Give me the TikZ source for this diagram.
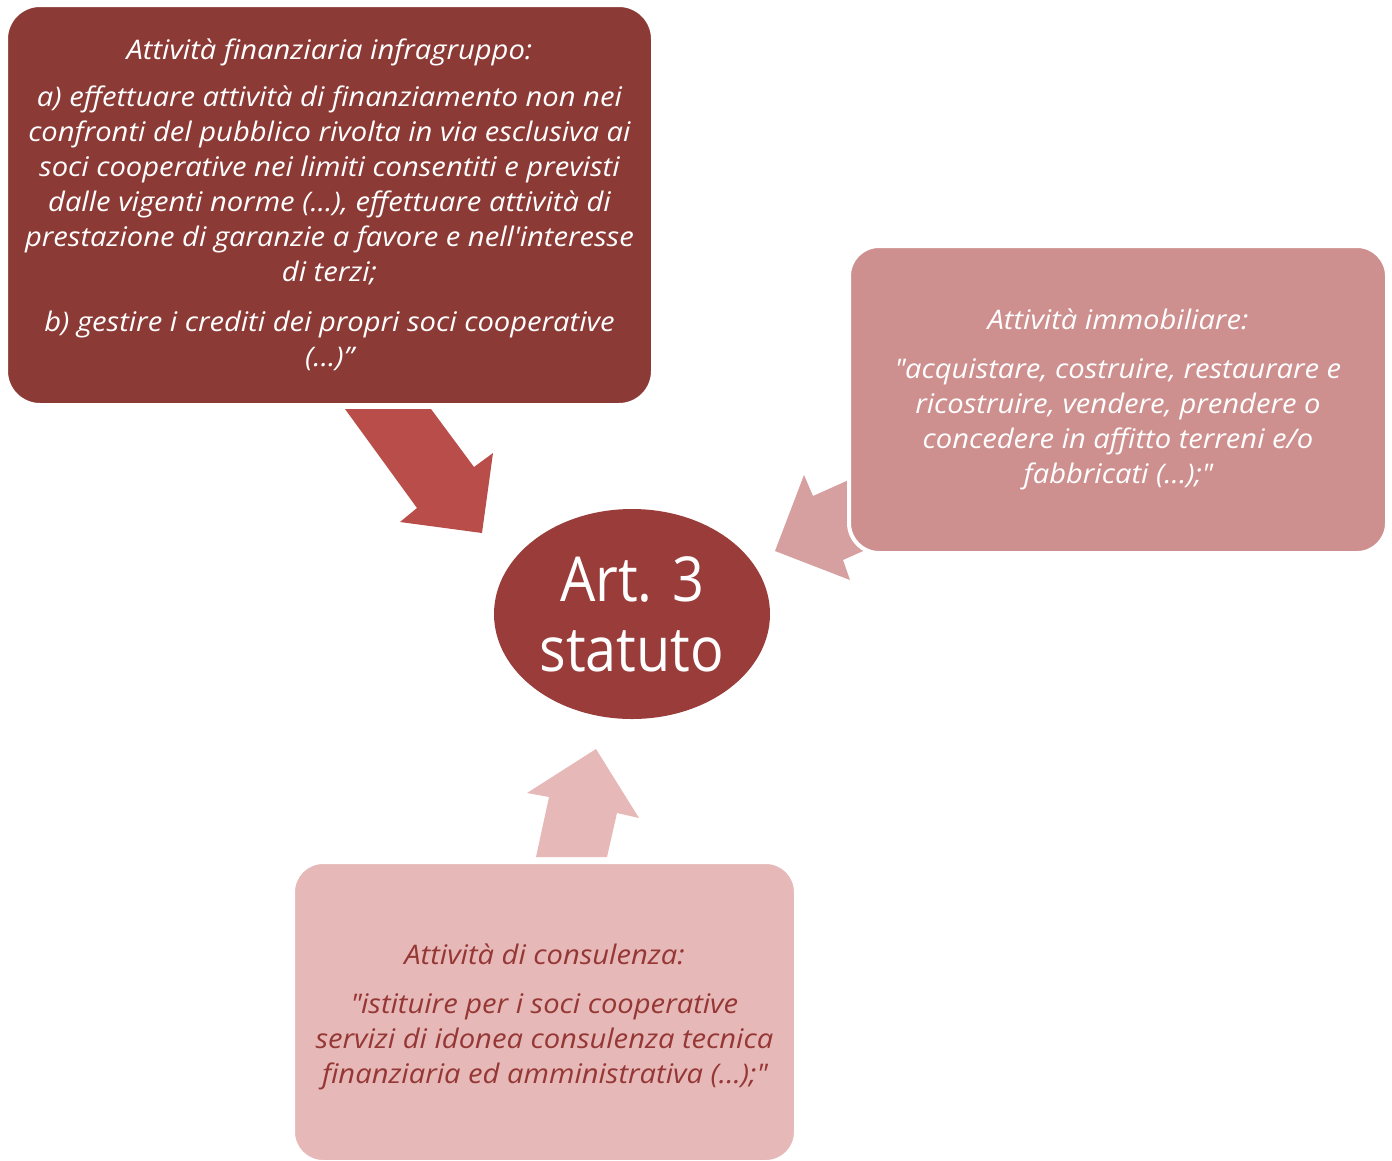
\documentclass[tikz,border=0pt]{standalone}
\usepackage{fontspec}
\setmainfont{Open Sans}[FakeStretch=1.08]
\newfontfamily\artfont{Open Sans}[FakeStretch=0.9]
\usetikzlibrary{shapes.geometric}
\definecolor{topbox}{HTML}{8C3A36}
\definecolor{toparrow}{HTML}{B94D4A}
\definecolor{artfill}{HTML}{993C3A}
\definecolor{rightbox}{HTML}{CD908F}
\definecolor{rightarrow}{HTML}{D5A09F}
\definecolor{botbox}{HTML}{E6B8B7}
\definecolor{bottext}{HTML}{953735}
\begin{document}
\begin{tikzpicture}[x=1pt,y=-1pt,
  box/.style={draw=white, line width=4pt, rounded corners=34pt, inner sep=0pt, align=center,
    font=\fontsize{27}{35}\selectfont\itshape},
  boxtext/.style={inner sep=0pt, align=center, font=\fontsize{27}{35}\selectfont\itshape}]
\useasboundingbox (0,0) rectangle (1392,1160);
% block arrows
\fill[toparrow] (345,409) -- (431,409) -- (474,467) -- (493,453) -- (482,533) -- (400,522) -- (417,508) -- cycle;
\fill[rightarrow] (775,551) -- (804,475) -- (813,496) -- (880,466) -- (910,530) -- (843,560) -- (850,580) -- cycle;
\fill[botbox] (596,749) -- (639,818) -- (617,813) -- (607,857) -- (536,857) -- (549,797) -- (527,793) -- cycle;
% boxes
\node[box, fill=topbox, text=white, minimum width=647pt, minimum height=400pt] (fin) at (329.5,205)
 {Attività finanziaria infragruppo:\\[12pt]
  a) effettuare attività di finanziamento non nei\\
  confronti del pubblico rivolta in via esclusiva ai\\
  soci cooperative nei limiti consentiti e previsti\\
  dalle vigenti norme (...), effettuare attività di\\
  prestazione di garanzie a favore e nell\textquotesingle interesse\\
  di terzi;\\[15pt]
  b) gestire i crediti dei propri soci cooperative\\
  (...)”};
\node[box, fill=rightbox, text=white, rounded corners=30pt, minimum width=538pt, minimum height=307pt] (imm) at (1118,399.5)
 {Attività immobiliare:\\[14pt]
  \textquotedbl acquistare, costruire, restaurare e\\
  ricostruire, vendere, prendere o\\
  concedere in affitto terreni e/o\\
  fabbricati (...);\textquotedbl};
\node[box, fill=botbox, rounded corners=30pt, minimum width=503pt, minimum height=300pt] (cons) at (544.5,1012) {};
\node[boxtext, text=bottext] (constext) at ([yshift=-5pt]cons.center)
 {Attività di consulenza:\\[14pt]
  \textquotedbl istituire per i soci cooperative\\
  servizi di idonea consulenza tecnica\\
  finanziaria ed amministrativa (...);\textquotedbl};
\node[ellipse, fill=artfill, text=white, minimum width=276pt, minimum height=210pt, inner sep=0pt, align=center,
  font=\artfont\fontsize{62}{70}\selectfont] (art) at (632,614) {Art. 3\\statuto};
\end{tikzpicture}
\end{document}
